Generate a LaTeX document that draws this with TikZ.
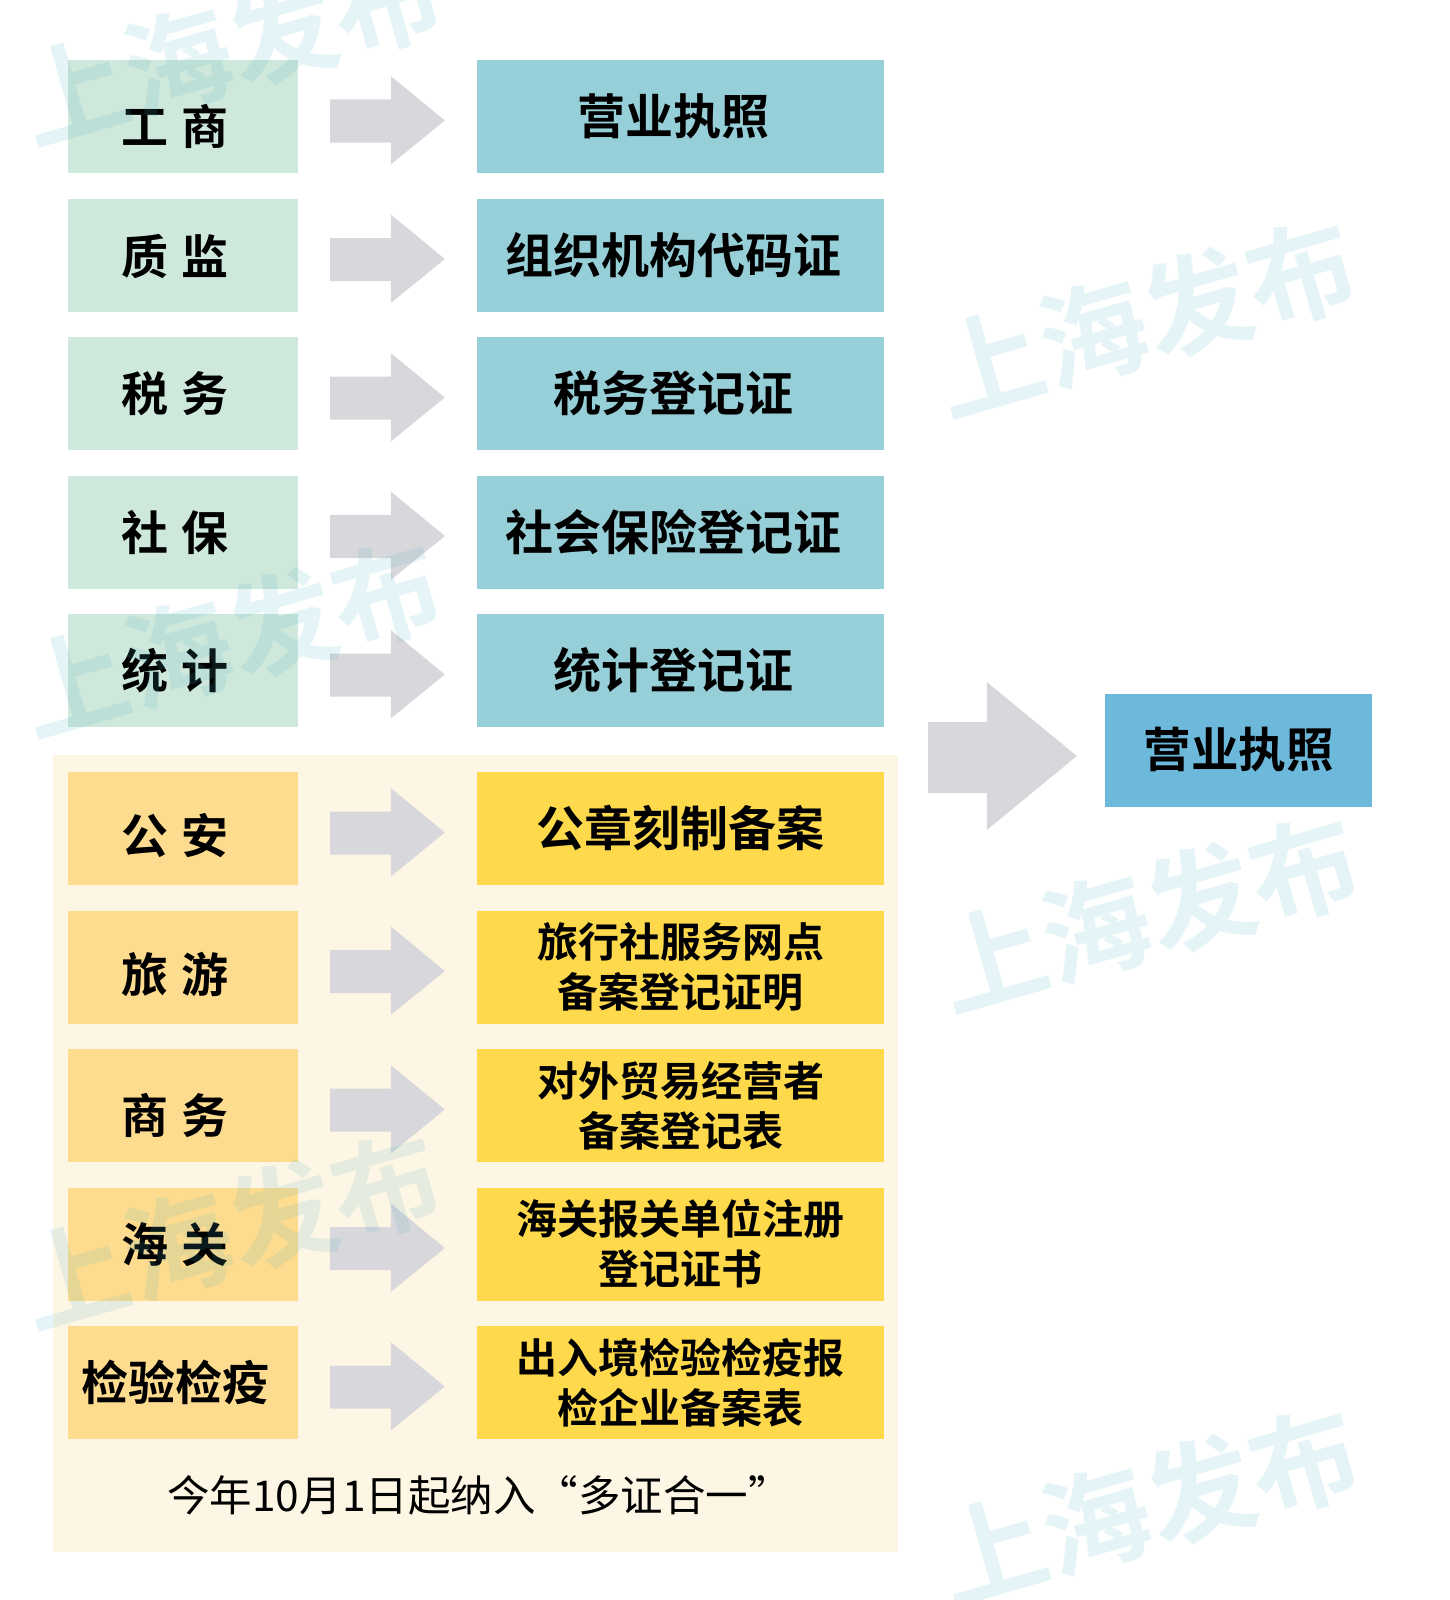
\documentclass[tikz,border=0pt]{standalone}
\usepackage{fontspec}
\setmainfont{Noto Sans CJK SC}[BoldFont={Noto Sans CJK SC Bold}]
\usetikzlibrary{calc}

\definecolor{dept green}{HTML}{CFE8DC}
\definecolor{cert teal}{HTML}{96CFD7}
\definecolor{dept yellow}{HTML}{FEDC8F}
\definecolor{cert yellow}{HTML}{FDD94B}
\definecolor{group beige}{HTML}{FEF6E4}
\definecolor{arrow gray}{HTML}{D8D8DC}
\definecolor{final blue}{HTML}{6CB9DC}
\definecolor{mark teal}{HTML}{4DB3C2}

\newcommand{\deptgap}{\hspace{0.28em}}
% department name, dropped #1 pt below the middle of its box
\newcommand{\deptlabel}[2]{\hspace*{-16pt}\raisebox{\dimexpr-18pt-#1pt\relax}[0pt][0pt]{#2}}
% gray block arrow between two boxes of one row
\newcommand{\blockarrow}[2]{%
  \fill [flow arrow] ($(#1.east)+(32,-17)$) -- ($(#2.west)+(-86,-17)$) -- ($(#2.west)+(-86,-40.5)$)
    -- ($(#2.west)+(-32,4)$) -- ($(#2.west)+(-86,48)$) -- ($(#2.west)+(-86,26)$)
    -- ($(#1.east)+(32,26)$) -- cycle;}

\begin{document}
\begin{tikzpicture}[
  x=1pt, y=-1pt,
  dept box/.style={
      inner sep=0pt,
      minimum width=230pt,
      minimum height=113pt,
      font=\bfseries\fontsize{47pt}{56pt}\selectfont
    },
  cert box/.style={
      inner sep=0pt,
      minimum width=407pt,
      minimum height=113pt,
      align=center
    },
  flow arrow/.style={
      fill=arrow gray
    },
  watermark/.style={
      rotate=16,
      text=mark teal,
      opacity=0.14,
      font=\bfseries\fontsize{108pt}{120pt}\selectfont
    }]

  \useasboundingbox [fill=white] (0,0) rectangle (1450,1600);

  % background of the newly merged certificates
  \node [fill=group beige, minimum width=845pt, minimum height=797pt, inner sep=0pt] (new_group) at (475.5,1153.5) {};

  \foreach \dept/\drop/\cert [count=\i] in {工\deptgap{}商/10/营业执照, 质\deptgap{}监/1/组织机构代码证,
      税\deptgap{}务/0/税务登记证, 社\deptgap{}保/0/社会保险登记证, 统\deptgap{}计/0/统计登记证} {
    \node [dept box, fill=dept green] (dept_\i) at (183,{116.5+138.5*(\i-1)}) {\deptlabel{\drop}{\dept}};
    \node [cert box, fill=cert teal, font=\bfseries\fontsize{48pt}{56pt}\selectfont] (cert_\i)
      at (680.5,{116.5+138.5*(\i-1)}) {\hspace*{-14pt}\cert};
    \blockarrow{dept_\i}{cert_\i}
  }

  \foreach \dept/\drop/\cert/\csize [count=\i from 6] in {公\deptgap{}安/7/公章刻制备案/48,
      旅\deptgap{}游/7/{旅行社服务网点\\备案登记证明}/41,
      商\deptgap{}务/10/{对外贸易经营者\\备案登记表}/41,
      海\deptgap{}关/0/{海关报关单位注册\\登记证书}/41,
      检验检疫/0/{出入境检验检疫报\\检企业备案表}/41} {
    \node [dept box, fill=dept yellow] (dept_\i) at (183,{828.5+138.5*(\i-6)}) {\deptlabel{\drop}{\dept}};
    \node [cert box, fill=cert yellow, font=\bfseries\fontsize{\csize pt}{50pt}\selectfont] (cert_\i)
      at (680.5,{828.5+138.5*(\i-6)}) {\cert};
    \blockarrow{dept_\i}{cert_\i}
  }

  \node [font=\fontsize{42.5pt}{50pt}\selectfont] (caption) at (479,1495) {今年10月1日起纳入“多证合一”};

  \node [fill=final blue, minimum width=267pt, minimum height=113pt, inner sep=0pt,
    font=\bfseries\fontsize{47.5pt}{56pt}\selectfont] (final) at (1238.5,750) {营业执照};

  \fill [flow arrow] ($(new_group.east |- final.west)+(30,-28)$) -- ($(final.west)+(-118,-28)$)
    -- ($(final.west)+(-118,-68)$) -- ($(final.west)+(-28,6)$) -- ($(final.west)+(-118,80)$)
    -- ($(final.west)+(-118,43)$) -- ($(new_group.east |- final.west)+(30,43)$) -- cycle;

  % watermarks
  \foreach \wx/\wy [count=\k] in {230/46, 230/638, 230/1230, 1145/318, 1148/913, 1148/1505} {
    \node [watermark] (mark_\k) at (\wx,\wy) {上海发布};
  }
\end{tikzpicture}
\end{document}
